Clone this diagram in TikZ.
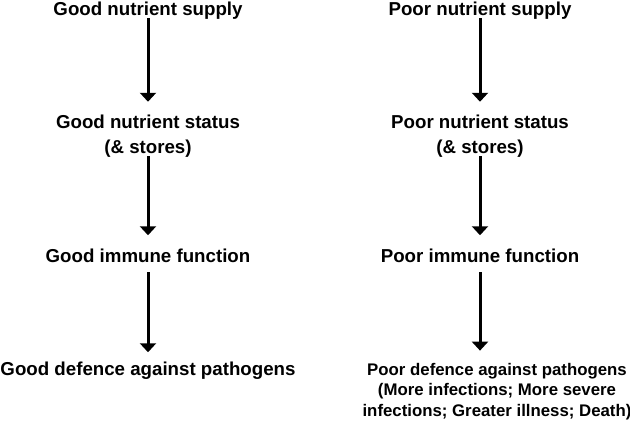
\documentclass[tikz,border=0pt]{standalone}
\usepackage{fontspec}
\setmainfont{Liberation Sans}
\usetikzlibrary{arrows.meta}
\tikzset{
  >/.tip={Triangle[width=16bp,length=9bp]},
  lbl/.style={inner sep=0pt, align=center, font=\bfseries\fontsize{18.7bp}{24.5bp}\selectfont},
  flow/.style={->, line width=3bp, shorten >=13bp}
}

\begin{document}
\begin{tikzpicture}[x=1bp, y=-1bp]
\useasboundingbox (0,0) rectangle (630,424);
% good column
\node[lbl, anchor=base] (gs) at (148,15)  {Good nutrient supply};
\node[lbl, anchor=base] (gt) at (148,153) {Good nutrient status\\(\& stores)};
\node[lbl, anchor=base] (gi) at (148,262) {Good immune function};
\node[lbl, anchor=base] (gd) at (148,375) {Good defence against pathogens};
% poor column
\node[lbl, anchor=base] (ps) at (480,15)  {Poor nutrient supply};
\node[lbl, anchor=base] (pt) at (480,153) {Poor nutrient status\\(\& stores)};
\node[lbl, anchor=base] (pi) at (480,262) {Poor immune function};
\node[lbl, anchor=base, font=\bfseries\fontsize{16.8bp}{20.5bp}\selectfont] (pd) at (497,416)
  {Poor defence against pathogens\\(More infections; More severe\\infections; Greater illness; Death)};

\draw[flow, shorten <=-1bp] (gs.south) -- (gt.north);
\draw[flow, shorten <=-1bp] (gt.south) -- (gi.north);
\draw[flow, shorten <=10bp, shorten >=9bp] (gi.south) -- (gd.north);
\draw[flow, shorten <=-1bp] (ps.south) -- (pt.north);
\draw[flow, shorten <=-1bp] (pt.south) -- (pi.north);
\draw[flow, shorten <=10bp, shorten >=12bp] (pi.south) -- (480,0 |- pd.north);
\end{tikzpicture}
\end{document}
